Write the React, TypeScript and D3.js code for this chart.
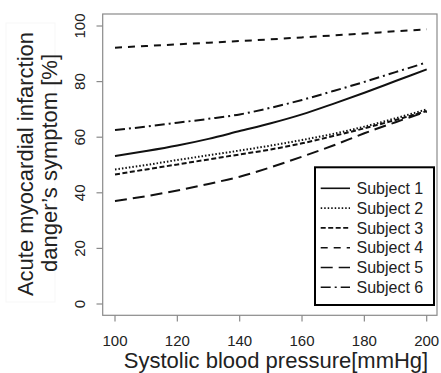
import React from "react";
import * as d3 from "d3";

const xValues = [100, 110, 120, 130, 140, 150, 160, 170, 180, 190, 200];
const subject1 = [53.2, 55.0, 57.0, 59.4, 62.2, 65.0, 68.2, 72.0, 76.0, 80.2, 84.4];
const subject2 = [48.4, 50.0, 51.8, 53.5, 55.2, 57.0, 59.0, 61.2, 63.8, 66.8, 70.0];
const subject3 = [46.6, 48.4, 50.2, 52.0, 53.8, 55.6, 57.8, 60.4, 63.2, 66.2, 69.4];
const subject4 = [92.2, 92.8, 93.4, 94.0, 94.6, 95.2, 95.9, 96.6, 97.3, 98.1, 98.8];
const subject5 = [37.0, 38.8, 40.8, 43.2, 45.8, 49.2, 53.0, 57.0, 61.4, 65.4, 69.2];
const subject6 = [62.6, 63.8, 65.2, 66.6, 68.2, 70.6, 73.4, 76.6, 79.9, 83.4, 86.9];
const seriesNames = ["Subject 1", "Subject 2", "Subject 3", "Subject 4", "Subject 5", "Subject 6"];
const xTicks = [100, 120, 140, 160, 180, 200];
const yTicks = [0, 20, 40, 60, 80, 100];

const dashes = ["none", "1.5,2", "5,2.5", "7,6", "12,6", "10,4,2,4"];

export default function App() {
  const x = d3.scaleLinear().domain([100, 200]).range([115, 426.7]);
  const y = d3.scaleLinear().domain([0, 100]).range([304, 26]);
  const all = [subject1, subject2, subject3, subject4, subject5, subject6];
  const line = d3
    .line<[number, number]>()
    .x((d) => x(d[0]))
    .y((d) => y(d[1]))
    .curve(d3.curveMonotoneX);
  const box = { l: 102.7, t: 14, r: 437, b: 315.3 };
  const font = "Liberation Sans, Arial, sans-serif";
  const txt = "#222";
  const leg = { l: 315, t: 167.3, r: 434, b: 305 };
  return (
    <svg
      width={441}
      height={373}
      style={{ position: "absolute", left: 0, top: 0, background: "#fff" }}
      fontFamily={font}
    >
      <rect x={6} y={23} width={49} height={279} fill="none" stroke="#f7f7f7" />
      <rect x={box.l} y={box.t} width={box.r - box.l} height={box.b - box.t} fill="none" stroke="#8a8a8a" strokeWidth={1.2} />
      {yTicks.map((t) => (
        <g key={"y" + t}>
          <line x1={96.5} x2={box.l} y1={y(t)} y2={y(t)} stroke="#8a8a8a" strokeWidth={1.2} />
          <text
            transform={`translate(85,${y(t)}) rotate(-90)`}
            textAnchor="middle"
            fontSize={15}
            fill={txt}
          >
            {t}
          </text>
        </g>
      ))}
      {xTicks.map((t) => (
        <g key={"x" + t}>
          <line x1={x(t)} x2={x(t)} y1={box.b} y2={321.5} stroke="#8a8a8a" strokeWidth={1.2} />
          <text x={x(t)} y={345.5} textAnchor="middle" fontSize={15} fill={txt}>
            {t}
          </text>
        </g>
      ))}
      <text x={276} y={368} textAnchor="middle" fontSize={22} fill={txt}>
        Systolic blood pressure[mmHg]
      </text>
      <text transform="translate(33,164) rotate(-90)" textAnchor="middle" fontSize={22} fill={txt}>
        Acute myocardial infarction
      </text>
      <text transform="translate(57,163) rotate(-90)" textAnchor="middle" fontSize={22} fill={txt}>
        danger’s symptom [%]
      </text>
      {all.map((s, i) => (
        <path
          key={"s" + i}
          d={line(xValues.map((v, j) => [v, s[j]] as [number, number])) || ""}
          fill="none"
          stroke="#111"
          strokeWidth={2}
          strokeDasharray={dashes[i]}
        />
      ))}
      <rect x={leg.l} y={leg.t} width={leg.r - leg.l} height={leg.b - leg.t} fill="#fff" stroke="#000" strokeWidth={2} />
      {seriesNames.map((n, i) => {
        const yy = 188.3 + i * 19.8;
        return (
          <g key={"l" + i}>
            <line x1={320.7} x2={350} y1={yy} y2={yy} stroke="#111" strokeWidth={1.6} strokeDasharray={dashes[i]} />
            <text x={356.5} y={yy + 5.6} fontSize={16} fill={txt}>
              {n}
            </text>
          </g>
        );
      })}
    </svg>
  );
}
